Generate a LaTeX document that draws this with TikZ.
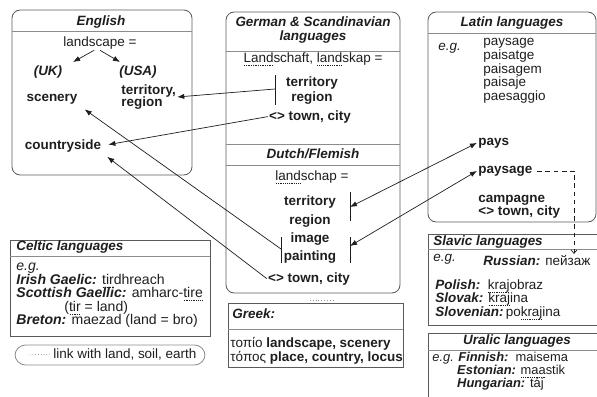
\documentclass[tikz,border=0pt]{standalone}
\usepackage{fontspec}
\setmainfont{Liberation Sans}
\usetikzlibrary{arrows.meta}
\definecolor{boxgray}{HTML}{5A5A5A}
\definecolor{linegray}{HTML}{8C8C8C}
\definecolor{ink}{HTML}{1E1E1E}
\newsavebox{\lnkbox}
\newcommand{\lnk}[1]{\sbox{\lnkbox}{#1}\rlap{\raisebox{-2.6pt}{\hbox to \wd\lnkbox{\xleaders\hbox to 1.5pt{\hss\vrule width 0.7pt height 0.5pt\hss}\hfill}}}\usebox{\lnkbox}}
\newcommand{\bi}[1]{\textbf{\textit{#1}}}
\tikzset{
  lbox/.style={draw=boxgray, line width=0.7pt, rounded corners=7pt},
  sbox/.style={draw=boxgray, line width=0.7pt},
  hline/.style={draw=linegray, line width=0.6pt},
  txt/.style={font=\fontsize{11.5}{13.5}\selectfont, inner sep=1pt},
  ttl/.style={txt, font=\fontsize{11.5}{13.5}\selectfont\bfseries\itshape},
  wrd/.style={txt, font=\fontsize{11.5}{13.5}\selectfont\bfseries},
  eg/.style={txt, font=\fontsize{11.5}{13.5}\selectfont\itshape},
  arr/.style={draw=ink, -{Latex[length=6pt,width=4.5pt]}, line width=0.6pt},
  darr/.style={draw=ink, {Latex[length=6pt,width=4.5pt]}-{Latex[length=6pt,width=4.5pt]}, line width=0.6pt},
  barl/.style={draw=ink, line width=0.8pt},
  dsh/.style={draw=ink, dash pattern=on 4pt off 3pt, line width=0.6pt, -{Straight Barb[length=3pt,width=5pt]}},
}

\begin{document}
\begin{tikzpicture}[x=0.03cm, y=-0.03cm, text=ink]
\useasboundingbox (0,0) rectangle (597,396);

\draw[lbox] (12,10) rectangle (192,175);
\draw[hline] (12,31) -- (192,31);
\node[ttl,anchor=mid] (engt) at (101,22) {English};
\node[txt,anchor=mid] (lsc) at (100,43) {landscape =};
\node[ttl,anchor=mid] (uk) at (48,72) {(UK)};
\node[ttl,anchor=mid] (usa) at (138,72) {(USA)};
\node[wrd,anchor=mid] (scen) at (52,98) {scenery};
\node[wrd,anchor=west,align=left,font=\fontsize{11.5}{11}\selectfont\bfseries] (usterr) at (120,97) {territory,\\region};
\node[wrd,anchor=mid] (cside) at (63,146) {countryside};
\coordinate (ukhd) at (73,62);
\coordinate (usahd) at (120,62);
\draw[arr] ([xshift=-5pt]lsc.south) -- (ukhd);
\draw[arr] (lsc.south) -- (usahd);

\draw[lbox] (226,12) rectangle (400,293);
\draw[hline] (226,51) -- (400,51);
\draw[hline] (226,144) -- (400,144);
\draw[hline] (226,165) -- (400,165);
\node[ttl,align=center,font=\fontsize{11.5}{12}\selectfont\bfseries\itshape] (gert) at (313,30) {German \& Scandinavian\\languages};
\node[txt,anchor=mid] (gls) at (313,59) {\lnk{Land}schaft, \lnk{land}skap =};
\node[wrd,align=center,font=\fontsize{11.5}{12.8}\selectfont\bfseries] (gterr) at (312,91) {territory\\region};
\node[wrd,anchor=mid] (gtown) at (310,117) {\textless\textgreater{} town, city};
\coordinate (gb1) at (275,75);
\coordinate (gb2) at (275,105);
\coordinate (gbm) at (275,89);
\draw[barl] (gb1) -- (gb2);

\node[ttl,anchor=mid] (dut) at (313,155) {Dutch/Flemish};
\node[txt,anchor=mid] (dls) at (312,177) {\lnk{land}schap =};
\node[wrd,anchor=mid] (dterr) at (310,202) {territory};
\node[wrd,anchor=mid] (dreg) at (310,221) {region};
\node[wrd,anchor=mid] (dimg) at (310,239) {image};
\node[wrd,anchor=mid] (dpnt) at (310,257) {painting};
\node[wrd,anchor=mid] (dtown) at (309,279) {\textless\textgreater{} town, city};
\coordinate (drb1a) at (350,192);
\coordinate (drb1b) at (350,221);
\coordinate (drb1m) at (350,207);
\coordinate (drb2a) at (350,237);
\coordinate (drb2b) at (350,263);
\coordinate (drb2m) at (350,246);
\coordinate (dlba) at (281,237);
\coordinate (dlbb) at (281,263);
\coordinate (dlbm) at (281,249);
\draw[barl] (drb1a) -- (drb1b);
\draw[barl] (drb2a) -- (drb2b);
\draw[barl] (dlba) -- (dlbb);
\draw[dotted, draw=linegray] (310,300) -- (333,300);

\draw[lbox] (428,12) rectangle (596,222);
\draw[hline] (428,33) -- (596,33);
\node[ttl,anchor=mid] (latt) at (512,23) {Latin languages};
\node[eg,anchor=mid west] (latg) at (437,47) {e.g.};
\node[txt,anchor=west,align=left,font=\fontsize{11.5}{9}\selectfont] (latl) at (482,71) {paysage\\paisatge\\paisagem\\paisaje\\paesaggio};
\node[wrd,anchor=mid west] (pays) at (477,142) {pays};
\node[wrd,anchor=mid west] (paysg) at (477,170) {paysage};
\node[wrd,anchor=west,align=left,font=\fontsize{11.5}{11}\selectfont\bfseries] (camp) at (477,207) {campagne\\\textless\textgreater{} town, city};

\draw[sbox] (428,234) rectangle (602,325);
\draw[hline] (428,249) -- (602,249);
\node[ttl,anchor=mid west] (slt) at (432,242) {Slavic languages};
\node[eg,anchor=mid west] (slg) at (432,258) {e.g.};
\node[txt,anchor=mid west] (rus) at (482,262) {\bi{Russian:} пейзаж};
\node[txt,anchor=mid west] (pol) at (434,286) {\bi{Polish:}\ \ \lnk{kraj}obraz};
\node[txt,anchor=mid west] (slk) at (434,299) {\bi{Slovak:} \lnk{kraj}ina};
\node[txt,anchor=mid west] (slv) at (434,313) {\bi{Slovenian:}\,po\lnk{kraj}ina};
\coordinate (dashend) at (574,254);

\draw[sbox] (428,333) rectangle (602,402);
\draw[hline] (428,350) -- (602,350);
\node[ttl,anchor=mid] (urt) at (517,341) {Uralic languages};
\node[eg,anchor=mid west,font=\fontsize{11}{13}\selectfont\itshape] (urg) at (431,358) {e.g.};
\node[txt,anchor=mid west,font=\fontsize{11}{13}\selectfont] (fin) at (457,358) {\bi{Finnish:}\ \ maisema};
\node[txt,anchor=mid west,font=\fontsize{11}{13}\selectfont,inner sep=0pt] (est) at (457,371) {\bi{Estonian:} \lnk{maa}stik};
\node[txt,anchor=mid west,font=\fontsize{11}{13}\selectfont,inner sep=0pt] (hun) at (457,384) {\bi{Hungarian:} táj};

\draw[sbox] (10,240) rectangle (210,336);
\draw[hline] (10,256) -- (210,256);
\node[ttl,anchor=mid west] (celt) at (15,247) {Celtic languages};
\node[eg,anchor=mid west,font=\fontsize{12}{14}\selectfont\itshape] (celg) at (15,267) {e.g.};
\node[txt,anchor=mid west,font=\fontsize{12}{14}\selectfont] (iri) at (15,281) {\bi{Irish Gaelic:} \lnk{tir}dhreach};
\node[txt,anchor=mid west,font=\fontsize{12}{14}\selectfont] (sco) at (15,294) {\bi{Scottish Gaellic:} amharc-\lnk{tire}};
\node[txt,anchor=mid west,font=\fontsize{12}{14}\selectfont] (tir) at (63,308) {(\lnk{tir} = land)};
\node[txt,anchor=mid west,font=\fontsize{12}{14}\selectfont] (bre) at (15,321) {\bi{Breton:} maezad (land = bro)};

\draw[lbox, draw=linegray, rounded corners=9pt] (15,345) rectangle (205,365);
\coordinate (legdot) at (27,355);
\node[txt,anchor=mid west] (leg) at (52,355) {link with land, soil, earth};
\draw[dotted, draw=ink] (legdot) -- (leg.west);

\draw[sbox] (228,303) rectangle (403,367);
\draw[hline] (228,329) -- (403,329);
\node[ttl,anchor=mid west] (grt) at (231,315) {Greek:};
\node[txt,anchor=mid west] (gr1) at (229,344) {τοπίο \textbf{landscape, scenery}};
\node[txt,anchor=mid west] (gr2) at (229,358) {τόπος \textbf{place, country, locus}};

\draw[arr] (gbm) -- (usterr.east);
\draw[arr, shorten >=5pt] (gtown.west) -- (cside.east);
\draw[arr, shorten >=6pt] (dlbm) -- (scen.south east);
\draw[arr, shorten >=5pt] (dtown.west) -- (cside.south east);
\draw[darr] (pays.west) -- (drb1m);
\draw[darr] (paysg.west) -- (drb2m);
\draw[dsh] ([xshift=3pt]paysg.east) -| (dashend);
\end{tikzpicture}
\end{document}
